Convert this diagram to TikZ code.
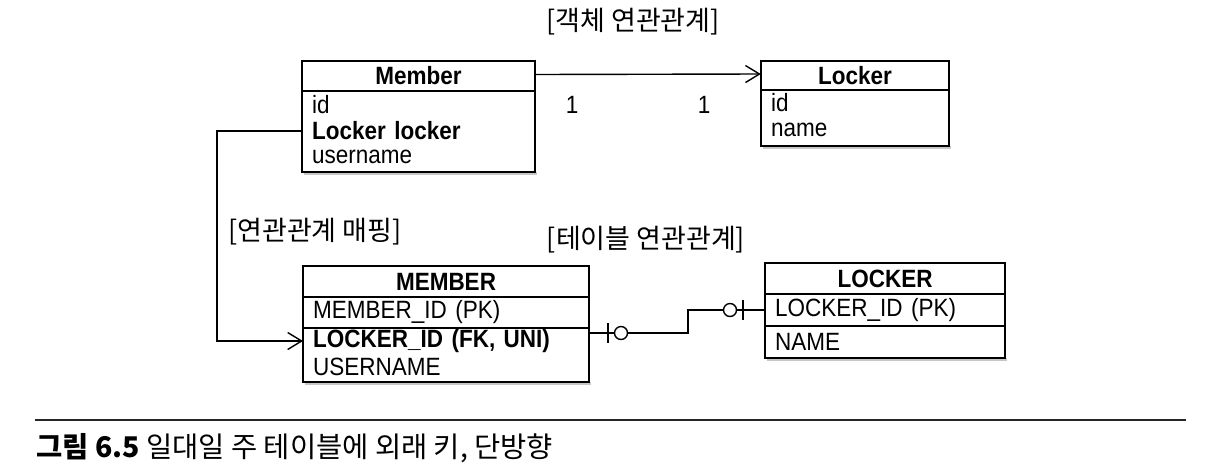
\documentclass[tikz,border=0pt]{standalone}
\usepackage{fontspec}
\setmainfont{Liberation Sans}[FakeStretch=0.9]
\newfontfamily\kr{Noto Sans CJK KR}
\usetikzlibrary{arrows.meta}
\begin{document}
\begin{tikzpicture}[x=1pt,y=-1pt,
  every node/.style={inner sep=0pt, font=\fontsize{25}{28}\selectfont},
  box/.style={draw, line width=1.5pt, fill=white},
  hdr/.style={font=\fontsize{25}{28}\selectfont\bfseries},
  row/.style={anchor=west, inner xsep=10pt, minimum height=26pt, text width=#1, align=left},
  bld/.style={font=\fontsize{25}{28}\selectfont\bfseries},
  conn/.style={line width=1.4pt},
  arr/.style={line width=1.4pt, -{Straight Barb[length=14pt,width=17pt,line width=1.4pt]}},
  lbl/.style={font=\fontsize{27}{30}\selectfont\kr},
  shadow/.style={fill=black!22, draw=none}
]
\useasboundingbox (0,0) rectangle (1214,472);

% ---------- Member (object) ----------
\fill[shadow] (304,172) rectangle (537,175);
\draw[box] (302,61) rectangle (535,172);
\draw[line width=1.5pt] (302,91) -- (535,91);
\node[hdr, minimum width=233pt, minimum height=30pt] (mh) at (418.5,76) {Member};
\node[row=213pt] (m1) at (302,105) {id};
\node[row=213pt, bld] (m2) at (302,131) {Locker locker};
\node[row=213pt] (m3) at (302,157) {username};

% ---------- Locker (object) ----------
\fill[shadow] (763,146) rectangle (951,149);
\draw[box] (761,61) rectangle (949,146);
\draw[line width=1.5pt] (761,90) -- (949,90);
\node[hdr, minimum width=188pt, minimum height=29pt] (lh) at (855,75.5) {Locker};
\node[row=168pt] (l1) at (761,103) {id};
\node[row=168pt] (l2) at (761,130) {name};

% association arrow
\draw[arr] ([yshift=1.5pt]mh.east) -- ([yshift=1.5pt]lh.west);
\node (one1) at (572,105) {1};
\node (one2) at (704,105) {1};

% ---------- MEMBER (table) ----------
\fill[shadow] (305,382) rectangle (591,385);
\draw[box] (303,266) rectangle (589,382);
\draw[line width=1.5pt] (303,297) -- (589,297);
\draw[line width=1.5pt] (303,328) -- (589,328);
\node[hdr, minimum width=286pt, minimum height=31pt] (th) at (446,281.5) {MEMBER};
\node[row=266pt] (t1) at (303,312) {MEMBER\_ID (PK)};
\node[row=266pt, bld] (t2) at (303,341) {LOCKER\_ID (FK, UNI)};
\node[row=266pt] (t3) at (303,367) {USERNAME};

% ---------- LOCKER (table) ----------
\fill[shadow] (767,358) rectangle (1007,361);
\draw[box] (765,263) rectangle (1005,358);
\draw[line width=1.5pt] (765,294) -- (1005,294);
\draw[line width=1.5pt] (765,326) -- (1005,326);
\node[hdr, minimum width=240pt, minimum height=31pt] (kh) at (885,278.5) {LOCKER};
\node[row=220pt] (k1) at (765,310) {LOCKER\_ID (PK)};
\node[row=220pt] (k2) at (765,342) {NAME};

% mapping connector
\coordinate (bendL) at (217,131);
\draw[arr] (m2.west) -- (bendL) |- (t2.west);

% ER relation connector
\coordinate (startR) at (589,333);
\coordinate (bendR) at (688,333);
\draw[conn] (startR) -- (bendR) |- (k1.west);
\draw[conn] (608,323) -- (608,343);
\draw[conn, fill=white] (621,333) circle (6.5pt);
\draw[conn] (743,300) -- (743,320);
\draw[conn, fill=white] (730,310) circle (6.5pt);

% ---------- labels ----------
\node[lbl] (t-obj) at (633,22) {[객체 연관관계]};
\node[lbl] (t-map) at (315,232) {[연관관계 매핑]};
\node[lbl] (t-tab) at (646,240) {[테이블 연관관계]};

% ---------- caption ----------
\coordinate (capL) at (35,420);
\coordinate (capR) at (1186,420);
\draw[line width=1.3pt, black!85] (capL) -- (capR);
\node[anchor=west, font=\fontsize{28.5}{32}\selectfont\kr] (cap) at (36,448) {\textbf{그림 6.5} 일대일 주 테이블에 외래 키, 단방향};
\end{tikzpicture}
\end{document}
